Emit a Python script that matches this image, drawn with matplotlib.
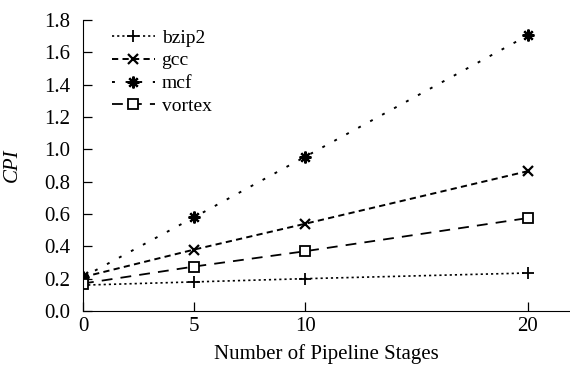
import matplotlib
matplotlib.use("Agg")
import matplotlib.pyplot as plt

plt.rcParams['font.family'] = ['Liberation Serif', 'DejaVu Serif']

stages = [0, 5, 10, 20]
bzip2 = [0.16, 0.18, 0.20, 0.235]
gcc = [0.21, 0.38, 0.54, 0.865]
mcf = [0.21, 0.58, 0.955, 1.705]
vortex = [0.17, 0.275, 0.37, 0.575]
yticks = [0.0, 0.2, 0.4, 0.6, 0.8, 1.0, 1.2, 1.4, 1.6, 1.8]
xticks = [0, 5, 10, 20]

W, H = 570, 369
fig = plt.figure(figsize=(W / 100, H / 100), dpi=100)
ax = fig.add_axes([83 / W, 1 - 311 / H, (569 - 83) / W, 291 / H])

ax.plot(stages, bzip2, color='black', linestyle=(0, (1.3, 1.8)), lw=1.2,
        marker='+', ms=9, mew=1.3, label='bzip2')
ax.plot(stages, gcc, color='black', linestyle=(0, (3.2, 2.2)), lw=1.4,
        marker='x', ms=7.5, mew=1.6, label='gcc')
ax.plot(stages, mcf, color='black', linestyle=(0, (1.5, 5.5)), lw=1.4,
        marker=(8, 2, 0), ms=8.5, mew=1.6, label='mcf')
ax.plot(stages, vortex, color='black', linestyle=(0, (6, 4.5)), lw=1.3,
        marker='s', ms=7.5, mfc='white', mew=1.3, label='vortex')

ax.set_xlim(0, 21.85)
ax.set_ylim(0, 1.8)
ax.set_xticks(xticks)
ax.set_yticks(yticks)
ax.set_yticklabels([f"{v:.1f}" for v in yticks])
ax.spines['top'].set_visible(False)
ax.spines['right'].set_visible(False)
ax.tick_params(direction='in', labelsize=15, length=6.5, width=0.9)
ax.tick_params(axis='x', pad=4)
ax.tick_params(axis='y', pad=9)
ax.set_xlabel('Number of Pipeline Stages', fontsize=15, labelpad=6)
ax.set_ylabel('CPI', fontsize=15, style='italic')
ax.yaxis.set_label_coords(-(83 - 22) / (569 - 83), 0.5)

ax.legend(loc='upper left', bbox_to_anchor=(112 / W, 1 - 29 / H),
          bbox_transform=fig.transFigure, frameon=False,
          fontsize=14, handlelength=2.2, handletextpad=0.35, labelspacing=0.27,
          borderpad=0, borderaxespad=0)

fig.savefig('out.png', dpi=100)
